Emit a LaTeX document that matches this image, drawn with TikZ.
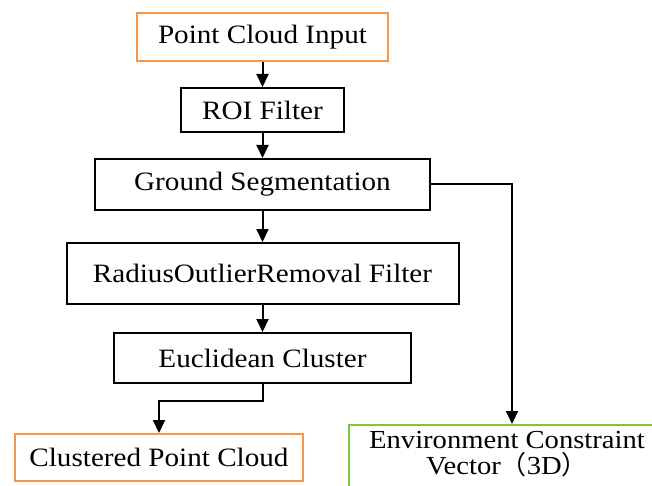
\documentclass[tikz,border=0pt]{standalone}
\usepackage{fontspec}
\setmainfont{Liberation Serif}[FakeStretch=1.1]
\newfontfamily\cjk{Noto Sans CJK SC}
\usetikzlibrary{arrows.meta,positioning}
\definecolor{boxorange}{RGB}{246,150,72}
\definecolor{boxgreen}{RGB}{122,200,60}
\tikzset{
  box/.style={draw=black, line width=2pt, rectangle, inner sep=0pt,
    font=\fontsize{26.5}{30}\selectfont},
  iobox/.style={box, draw=boxorange},
  arr/.style={line width=2pt, -{Triangle[length=13pt,width=12pt]}},
}
\begin{document}
\begin{tikzpicture}[x=1pt,y=-1pt]
\useasboundingbox (0,0) rectangle (652,486);
\clip (0,0) rectangle (652,486);

\node[iobox, minimum width=251, minimum height=48] (pci) at (262.5,37) {Point Cloud Input};
\node[box, minimum width=163, minimum height=44] (roi) at (262.5,110) {ROI Filter};
\node[box, minimum width=335, minimum height=51] (gs) at (262.5,184.5) {Ground Segmentation};
\node[box, minimum width=392, minimum height=61] (ror) at (262.5,273.5) {RadiusOutlierRemoval Filter};
\node[box, minimum width=297, minimum height=50] (ec) at (262.5,358) {Euclidean Cluster};
\node[iobox, minimum width=288, minimum height=47] (cpc) at (159,457.5) {Clustered Point Cloud};

% output box running off the lower right corner
\node[box, draw=boxgreen, minimum width=330, minimum height=100, anchor=north west] (env) at (348,424) {};
\node[font=\fontsize{26}{26}\selectfont, align=center, inner sep=0pt] (envtxt) at (507,454)
  {Environment Constraint\\Vector{\cjk （}3D{\cjk ）}};
\coordinate (envin) at (512,424);

\draw[arr] (pci) -- (roi);
\draw[arr] (roi) -- (gs);
\draw[arr] (gs) -- (ror);
\draw[arr] (ror) -- (ec);
\draw[arr] (ec.south) -- ++(0,17) -| (cpc.north);
\draw[arr] (gs.east) -| (envin);
\end{tikzpicture}
\end{document}
